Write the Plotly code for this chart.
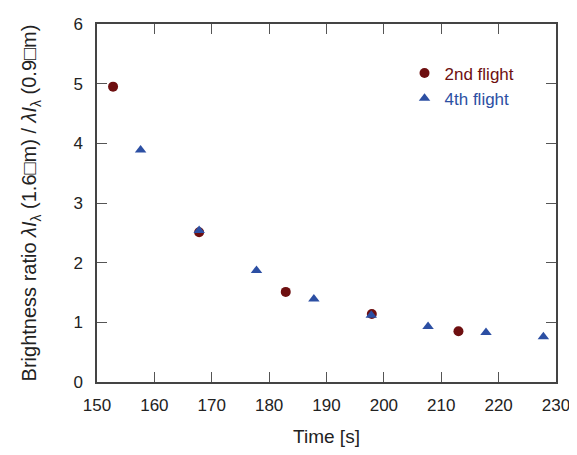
import plotly.graph_objects as go

time_2nd = [152.8, 167.8, 182.9, 197.9, 213.0]
ratio_2nd = [4.95, 2.51, 1.51, 1.14, 0.85]

time_4th = [157.6, 167.8, 177.8, 187.8, 197.8, 207.7, 217.8, 227.8]
ratio_4th = [3.89, 2.54, 1.87, 1.39, 1.12, 0.93, 0.83, 0.76]

x_ticks = [150, 160, 170, 180, 190, 200, 210, 220, 230]
y_ticks = [0, 1, 2, 3, 4, 5, 6]

red = "#6e0f10"
blue = "#2c4fa3"

fig = go.Figure()
fig.add_trace(go.Scatter(
    x=time_2nd, y=ratio_2nd, mode="markers",
    name=f'<span style="color:{red}">2nd flight</span>',
    marker=dict(symbol="circle", size=10, color=red),
))
fig.add_trace(go.Scatter(
    x=time_4th, y=ratio_4th, mode="markers",
    name=f'<span style="color:{blue}">4th flight</span>',
    marker=dict(symbol="triangle-up", size=10, color=blue),
))

axis_common = dict(
    showline=True, linecolor="#444", linewidth=1.5, mirror="ticks",
    ticks="inside", ticklen=10, tickcolor="#555", tickwidth=1.2,
    showgrid=False, zeroline=False, ticklabeloverflow="allow",
    tickfont=dict(size=17, color="#222"),
)

y_title = ("Brightness ratio <i>λI</i><sub>λ</sub>&nbsp;(1.6□m) / "
           "<i>λI</i><sub>λ</sub>&nbsp;(0.9□m)")

# page body has an 8px margin; compensate so the plot box lands where the reference has it
fig.update_layout(
    width=569, height=447,
    margin=dict(l=89, r=16, t=7, b=73),
    paper_bgcolor="white", plot_bgcolor="white",
    font=dict(family="Liberation Sans, Arial, sans-serif", color="#222"),
    showlegend=True,
    legend=dict(x=0.67, y=0.912, xanchor="left", yanchor="top",
                bgcolor="rgba(0,0,0,0)", font=dict(size=17),
                itemwidth=30, tracegroupgap=0),
    xaxis=dict(range=[150, 230], tickvals=x_ticks, ticklabelstandoff=7,
               title=dict(text="Time [s]", font=dict(size=19), standoff=16),
               **axis_common),
    yaxis=dict(range=[0, 6], tickvals=y_ticks, ticklabelstandoff=9,
               title=dict(text=y_title, font=dict(size=20), standoff=31),
               **axis_common),
)

fig.write_html("out.html")
